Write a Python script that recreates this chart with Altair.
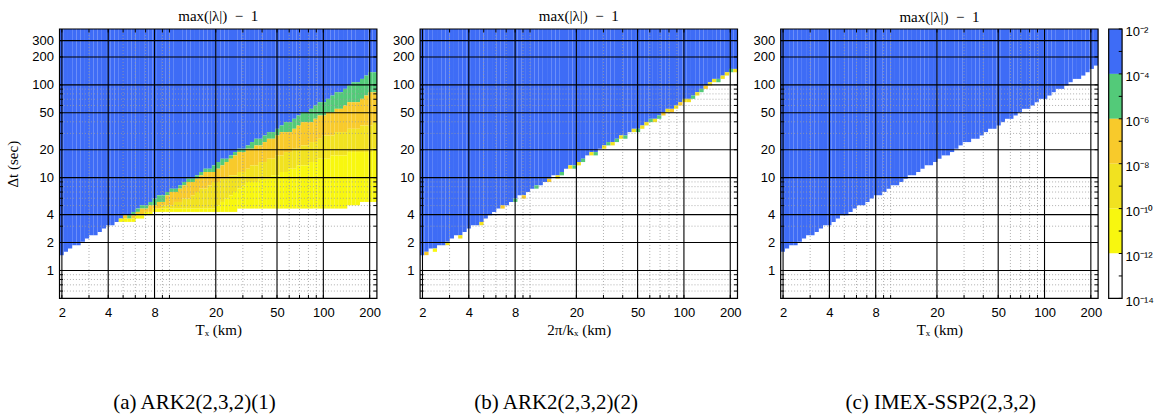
import altair as alt
import pandas as pd

# ---------------- grid of the heat maps (log10 of cell edges) ----------------
X_EDGES_LOG = [
    0.2856, 0.3131, 0.3406, 0.3681, 0.3956, 0.4231, 0.4506, 0.4781, 0.5056, 0.5331,
    0.5606, 0.5881, 0.6156, 0.6431, 0.6706, 0.6981, 0.7256, 0.7531, 0.7806, 0.8081,
    0.8356, 0.8631, 0.8906, 0.9181, 0.9456, 0.9731, 1.0006, 1.0281, 1.0556, 1.0831,
    1.1106, 1.1381, 1.1656, 1.1931, 1.2206, 1.2481, 1.2756, 1.3031, 1.3306, 1.3581,
    1.3856, 1.4131, 1.4406, 1.4681, 1.4956, 1.5231, 1.5506, 1.5781, 1.6056, 1.6331,
    1.6606, 1.6881, 1.7156, 1.7431, 1.7706, 1.7981, 1.8256, 1.8531, 1.8806, 1.9081,
    1.9356, 1.9631, 1.9906, 2.0181, 2.0456, 2.0731, 2.1006, 2.1281, 2.1556, 2.1831,
    2.2106, 2.2381, 2.2656, 2.2931, 2.3206, 2.3481,
]
Y_EDGES_LOG = [
    -0.3010, -0.2652, -0.2293, -0.1935, -0.1576, -0.1218, -0.0860, -0.0501, -0.0143, 0.0216,
    0.0574, 0.0932, 0.1291, 0.1649, 0.2008, 0.2366, 0.2724, 0.3083, 0.3441, 0.3800,
    0.4158, 0.4516, 0.4875, 0.5233, 0.5592, 0.5950, 0.6308, 0.6667, 0.7025, 0.7384,
    0.7742, 0.8100, 0.8459, 0.8817, 0.9176, 0.9534, 0.9892, 1.0251, 1.0609, 1.0968,
    1.1326, 1.1684, 1.2043, 1.2401, 1.2760, 1.3118, 1.3476, 1.3835, 1.4193, 1.4552,
    1.4910, 1.5268, 1.5627, 1.5985, 1.6344, 1.6702, 1.7060, 1.7419, 1.7777, 1.8136,
    1.8494, 1.8852, 1.9211, 1.9569, 1.9928, 2.0286, 2.0644, 2.1003, 2.1361, 2.1720,
    2.2078, 2.2436, 2.2795, 2.3153, 2.3512, 2.3870, 2.4228, 2.4587, 2.4945, 2.5304,
    2.5662, 2.6021,
]

# ---------------- band boundaries (row index of lower edge, per column) ----------------
# panel (a)
P1_BLUE = [13, 14, 15, 16, 16, 17, 18, 19, 19, 20, 21, 22, 22, 23, 24, 25, 25, 26, 27, 28,
           28, 29, 30, 31, 31, 32, 33, 33, 34, 35, 36, 36, 37, 38, 39, 39, 40, 41, 42, 42,
           43, 44, 45, 45, 46, 47, 48, 48, 49, 50, 50, 51, 52, 53, 53, 54, 55, 56, 56, 57,
           58, 59, 59, 60, 61, 62, 62, 63, 64, 65, 65, 66, 67, 68, 68]
P1_GREEN = [13, 14, 15, 16, 16, 17, 18, 19, 19, 20, 21, 22, 22, 23, 24, 25, 24, 25, 26, 27,
            27, 28, 28, 29, 29, 31, 32, 32, 33, 34, 35, 35, 36, 37, 38, 38, 38, 39, 40, 41,
            42, 43, 44, 44, 45, 45, 46, 46, 47, 48, 48, 49, 50, 50, 50, 51, 52, 53, 53, 53,
            54, 55, 55, 56, 56, 57, 57, 58, 59, 59, 59, 60, 61, 62, 62]
P1_ORANGE = [13, 14, 15, 16, 16, 17, 18, 19, 19, 20, 21, 22, 22, 23, 24, 24, 24, 24, 25, 25,
             26, 26, 27, 27, 28, 28, 28, 29, 29, 30, 30, 31, 32, 33, 33, 34, 35, 35, 36, 36,
             37, 37, 38, 38, 39, 40, 40, 41, 41, 42, 42, 43, 43, 44, 44, 45, 45, 46, 46, 47,
             47, 48, 49, 49, 49, 50, 50, 50, 51, 51, 51, 52, 52, 52, 53]
P1_YELLOW = [13, 14, 15, 16, 16, 17, 18, 19, 19, 20, 21, 22, 22, 23, 24, 24, 24, 24, 25, 25,
             26, 26, 27, 27, 27, 27, 27, 27, 27, 27, 27, 27, 27, 27, 27, 27, 27, 28, 29, 30,
             31, 32, 33, 34, 35, 35, 35, 36, 36, 36, 37, 37, 38, 38, 39, 39, 40, 40, 40, 41,
             41, 42, 42, 42, 43, 43, 43, 43, 44, 44, 44, 44, 44, 44, 45]
P1_BRIGHT = [13, 14, 15, 16, 16, 17, 18, 19, 19, 20, 21, 22, 22, 23, 23, 23, 23, 23, 24, 24,
             25, 25, 26, 26, 26, 26, 26, 26, 26, 26, 26, 26, 26, 26, 26, 26, 26, 26, 26, 26,
             26, 26, 27, 27, 27, 27, 27, 27, 27, 27, 27, 27, 27, 27, 27, 27, 27, 27, 27, 27,
             27, 27, 27, 27, 27, 27, 27, 27, 28, 28, 28, 29, 29, 29, 29]
# panel (b)
P2_BLUE = [13, 14, 15, 15, 16, 16, 17, 18, 19, 19, 20, 21, 22, 22, 23, 24, 25, 26, 27, 28,
           28, 29, 30, 31, 31, 32, 33, 34, 34, 35, 36, 37, 37, 38, 39, 40, 40, 41, 42, 43,
           44, 44, 45, 46, 47, 47, 48, 49, 49, 50, 51, 51, 52, 53, 54, 54, 55, 56, 57, 57,
           58, 59, 60, 60, 61, 62, 63, 64, 65, 66, 66, 67, 68, 69, 69]
# colour code of the single cell just under the blue region (0 none, 1 green, 2 orange, 3 yellow, 4 bright)
P2_EDGE = [0, 2, 0, 4, 0, 0, 3, 0, 0, 3, 0, 0, 0, 0, 3, 0, 0, 0, 0, 2,
           0, 0, 1, 0, 2, 0, 0, 1, 0, 0, 2, 0, 3, 1, 0, 3, 1, 3, 1, 0,
           3, 1, 0, 3, 1, 3, 1, 3, 1, 0, 3, 1, 3, 3, 1, 3, 1, 2, 3, 2,
           3, 2, 3, 3, 1, 3, 1, 2, 3, 3, 1, 3, 3, 1, 3]
# panel (c)
P3_BLUE = [14, 15, 16, 16, 17, 18, 19, 19, 20, 21, 22, 22, 23, 24, 25, 25, 26, 27, 28, 28,
           29, 30, 31, 31, 32, 33, 34, 34, 35, 36, 37, 37, 38, 39, 40, 40, 41, 42, 43, 43,
           44, 45, 46, 47, 47, 48, 48, 49, 50, 51, 51, 52, 53, 54, 54, 55, 56, 57, 57, 58,
           59, 60, 60, 61, 62, 63, 63, 64, 65, 66, 66, 67, 68, 69, 70]

BAND_NAMES = ["blue", "green", "orange", "yellow", "bright", "white"]
BAND_COLORS = ["#3E6CF6", "#53CA79", "#F8CA2B", "#F1E220", "#F8F70F", "#FFFFFF"]

# colour bar (exponents of 10)
CB_LO = [-4, -6, -8, -10, -12, -14]
CB_HI = [-2, -4, -6, -8, -10, -12]
CB_EXP = [-2, -4, -6, -8, -10, -12, -14]
CB_LABELS = ["10⁻²", "10⁻⁴", "10⁻⁶", "10⁻⁸", "10⁻¹⁰", "10⁻¹²", "10⁻¹⁴"]
CB_TICKS = [-14, -13, -12, -11, -10, -9, -8, -7, -6, -5, -4, -3, -2]

X_TICKS = [2, 4, 8, 20, 50, 100, 200]
Y_TICKS = [1, 2, 4, 10, 20, 50, 100, 200, 300]
X_MINOR = [3, 5, 6, 7, 9, 10, 30, 40, 60, 70, 80, 90]
Y_MINOR = [0.6, 0.7, 0.8, 0.9, 3, 5, 6, 7, 8, 9, 30, 40, 60, 70, 80, 90]

TITLE = "max(|λ|)\u2002−\u20021"
CAPTIONS = ["(a) ARK2(2,3,2)(1)", "(b) ARK2(2,3,2)(2)", "(c) IMEX-SSP2(2,3,2)"]
XTITLES = ["Tₓ (km)", "2π/kₓ (km)", "Tₓ (km)"]
YTITLE = "Δt (sec)"

# ---------------- layout constants ----------------
W, H = 317.4, 269.4
SANS = "Liberation Sans"
SERIF = "Liberation Serif"
NCOL = len(X_EDGES_LOG) - 1
TOP = len(Y_EDGES_LOG) - 1

XDOM = [10 ** X_EDGES_LOG[0], 10 ** X_EDGES_LOG[-1]]
YDOM = [10 ** Y_EDGES_LOG[0], 10 ** Y_EDGES_LOG[-1]]
xs = alt.Scale(type="log", domain=XDOM, nice=False)
ys = alt.Scale(type="log", domain=YDOM, nice=False)
cscale = alt.Scale(domain=BAND_NAMES, range=BAND_COLORS)


def band_cells(bands):
    recs = []
    for j in range(NCOL):
        for name, lo, hi in bands:
            a, b = lo[j], hi[j]
            if b > a:
                recs.append({"x": 10 ** X_EDGES_LOG[j], "x2": 10 ** X_EDGES_LOG[j + 1],
                             "y": 10 ** Y_EDGES_LOG[a], "y2": 10 ** Y_EDGES_LOG[b],
                             "band": name})
    return pd.DataFrame(recs)


TOPS = [TOP] * NCOL
df1 = band_cells([
    ("blue", P1_BLUE, TOPS), ("green", P1_GREEN, P1_BLUE), ("orange", P1_ORANGE, P1_GREEN),
    ("yellow", P1_YELLOW, P1_ORANGE), ("bright", P1_BRIGHT, P1_YELLOW),
])
edge_recs = []
for j in range(NCOL):
    if P2_EDGE[j]:
        edge_recs.append({"x": 10 ** X_EDGES_LOG[j], "x2": 10 ** X_EDGES_LOG[j + 1],
                          "y": 10 ** Y_EDGES_LOG[P2_BLUE[j] - 1], "y2": 10 ** Y_EDGES_LOG[P2_BLUE[j]],
                          "band": BAND_NAMES[P2_EDGE[j]]})
df2 = pd.concat([band_cells([("blue", P2_BLUE, TOPS)]), pd.DataFrame(edge_recs)], ignore_index=True)
df3 = band_cells([("blue", P3_BLUE, TOPS)])


def panel(df, xtitle, caption, cap_x, ytitle):
    xaxis = alt.Axis(
        values=X_TICKS, format="~g", grid=False, ticks=False, tickSize=0, domain=False,
        labelFont=SANS, labelFontSize=13, labelColor="black", labelPadding=8,
        labelFlush=False, labelOverlap=False, title=xtitle, titleFont=SERIF,
        titleFontSize=15, titleFontWeight="normal", titleColor="black", titlePadding=3)
    yaxis = alt.Axis(
        values=Y_TICKS, format="~g", grid=False, ticks=False, tickSize=0, domain=False,
        labelFont=SANS, labelFontSize=13, labelColor="black", labelPadding=6,
        labelFlush=False, labelOverlap=False, titleFont=SERIF, titleFontSize=15,
        titleFontWeight="normal", titleColor="black", titlePadding=11, title=ytitle)

    def X(f):
        return alt.X(f, scale=xs, axis=xaxis)

    def Y(f):
        return alt.Y(f, scale=ys, axis=yaxis)

    heat = alt.Chart(df).mark_rect().encode(
        x=X("x:Q"), x2="x2", y=Y("y:Q"), y2="y2",
        color=alt.Color("band:N", scale=cscale, legend=None),
    )
    xminor = alt.Chart(pd.DataFrame({"v": X_MINOR})).mark_rule(
        color="#9c9c9c", strokeWidth=0.8, strokeDash=[1, 2]).encode(x=X("v:Q"))
    yminor = alt.Chart(pd.DataFrame({"v": Y_MINOR})).mark_rule(
        color="#9c9c9c", strokeWidth=0.8, strokeDash=[1, 2]).encode(y=Y("v:Q"))
    xmajor = alt.Chart(pd.DataFrame({"v": X_TICKS})).mark_rule(
        color="black", strokeWidth=1.1).encode(x=X("v:Q"))
    ymajor = alt.Chart(pd.DataFrame({"v": Y_TICKS})).mark_rule(
        color="black", strokeWidth=1.1).encode(y=Y("v:Q"))
    yt = pd.DataFrame({"v": Y_TICKS + Y_MINOR})
    xt = pd.DataFrame({"v": X_TICKS + X_MINOR})
    tl = alt.Chart(yt).mark_rule(color="black", strokeWidth=1).encode(
        y=Y("v:Q"), x=alt.value(0), x2=alt.value(3.5))
    tr = alt.Chart(yt).mark_rule(color="black", strokeWidth=1).encode(
        y=Y("v:Q"), x=alt.value(W - 3.5), x2=alt.value(W))
    tb = alt.Chart(xt).mark_rule(color="black", strokeWidth=1).encode(
        x=X("v:Q"), y=alt.value(H - 3.5), y2=alt.value(H))
    tt = alt.Chart(xt).mark_rule(color="black", strokeWidth=1).encode(
        x=X("v:Q"), y=alt.value(0), y2=alt.value(3.5))
    frame = alt.Chart(pd.DataFrame({"a": [XDOM[0]], "b": [XDOM[1]], "c": [YDOM[0]], "d": [YDOM[1]]})).mark_rect(
        fillOpacity=0, stroke="black", strokeWidth=1.2).encode(
        x=X("a:Q"), x2="b", y=Y("c:Q"), y2="d")
    cap = alt.Chart(pd.DataFrame({"t": [caption]})).mark_text(
        font=SERIF, fontSize=21, color="black", align="center", baseline="middle").encode(
        x=alt.value(cap_x), y=alt.value(H + 104.6), text="t:N")
    return alt.layer(heat, xminor, yminor, xmajor, ymajor, tl, tr, tb, tt, frame, cap)


def title(offset):
    return alt.TitleParams(TITLE, font=SERIF, fontSize=15, fontWeight="normal", color="black",
                           offset=offset, anchor="middle")


p1 = panel(df1, XTITLES[0], CAPTIONS[0], 135, YTITLE).properties(width=W, height=H, title=title(4))
p2 = panel(df2, XTITLES[1], CAPTIONS[1], 136, "").properties(width=W, height=H, title=title(4))

# colour bar layered into the third panel with its own scales
cb_df = pd.DataFrame({"lo": CB_LO, "hi": CB_HI, "band": BAND_NAMES, "x0": [0] * 6, "x1": [1] * 6})
cbx = alt.Scale(domain=[0, 1], range=[328, 341.4])
cby = alt.Scale(domain=[-14, -2], nice=False, zero=False)
label_expr = " : ".join(f"datum.value == {e} ? '{l}'" for e, l in zip(CB_EXP, CB_LABELS)) + " : ''"
cbaxis = alt.Axis(
    orient="right", offset=24, values=CB_EXP, labelExpr=label_expr, grid=False,
    ticks=False, tickSize=0, domain=False, labelFont=SANS, labelFontSize=13,
    labelColor="black", labelPadding=3, labelFlush=False, labelOverlap=False,
    labelBaseline="top", labelOffset=-3, title="")
cb_rect = alt.Chart(cb_df).mark_rect().encode(
    x=alt.X("x0:Q", scale=cbx, axis=None), x2="x1",
    y=alt.Y("lo:Q", scale=cby, axis=cbaxis), y2="hi",
    color=alt.Color("band:N", scale=cscale, legend=None),
)
cb_frame = alt.Chart(pd.DataFrame({"x0": [0], "x1": [1], "lo": [-14], "hi": [-2]})).mark_rect(
    fillOpacity=0, stroke="black", strokeWidth=1.2).encode(
    x=alt.X("x0:Q", scale=cbx, axis=None), x2="x1",
    y=alt.Y("lo:Q", scale=cby, axis=cbaxis), y2="hi")
cb_ticks = alt.Chart(pd.DataFrame({"lo": CB_TICKS, "x0": [0.75] * len(CB_TICKS), "x1": [1] * len(CB_TICKS)})).mark_rule(
    color="black", strokeWidth=1).encode(
    x=alt.X("x0:Q", scale=cbx, axis=None), x2="x1",
    y=alt.Y("lo:Q", scale=cby, axis=cbaxis))
cbar = alt.layer(cb_rect, cb_frame, cb_ticks)

p3 = alt.layer(panel(df3, XTITLES[2], CAPTIONS[2], 160, ""), cbar).resolve_scale(
    x="independent", y="independent").properties(width=W, height=H, title=title(1))

chart = alt.hconcat(p1, p2, p3, spacing=42.6, bounds="flush").properties(
    padding={"left": 5.5, "top": 9, "right": 2, "bottom": 2},
).configure_view(strokeWidth=0)

chart.save("out.html", embed_options={"renderer": "svg", "actions": False})
